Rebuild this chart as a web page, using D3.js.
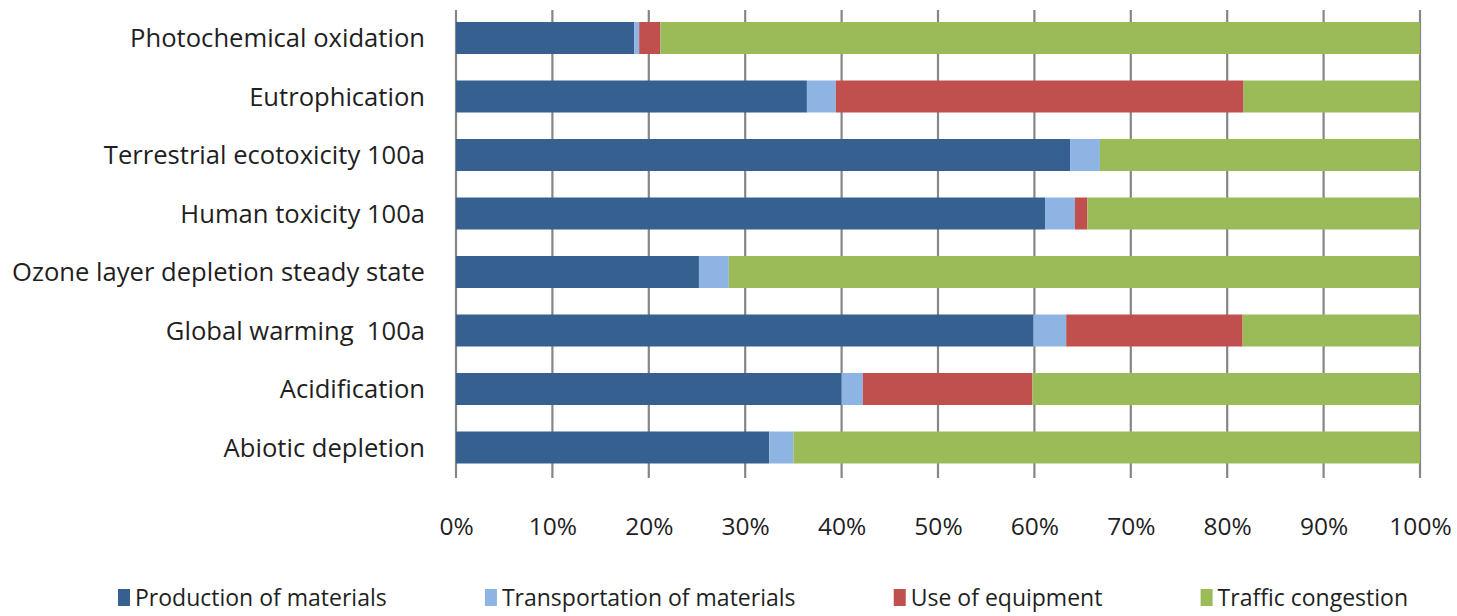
<!DOCTYPE html>
<html>
<head>
<meta charset="utf-8">
<script src="https://cdn.jsdelivr.net/npm/d3@7"></script>
<style>
  body { margin: 0; background: #fff; }
  svg text { fill: #1f1f1f; font-family: "Open Sans", sans-serif; }
</style>
</head>
<body>
<svg id="chart" width="1457" height="616"></svg>
<script>
'use strict';

// categories, top to bottom
var categories = [
  'Photochemical oxidation',
  'Eutrophication',
  'Terrestrial ecotoxicity 100a',
  'Human toxicity 100a',
  'Ozone layer depletion steady state',
  'Global warming  100a',
  'Acidification',
  'Abiotic depletion'
];

var seriesNames = ['Production of materials', 'Transportation of materials', 'Use of equipment', 'Traffic congestion'];
var seriesColors = ['#35608f', '#8db4e2', '#c0504d', '#9bbb59'];

// shares in %
var production     = [18.5, 36.4, 63.7, 61.1, 25.2, 59.9, 40.0, 32.5];
var transportation = [0.5,   3.0,  3.1,  3.1,  3.1,  3.4,  2.2,  2.5];
var equipment      = [2.2,  42.3,  0.0,  1.3,  0.0, 18.3, 17.6,  0.0];
var traffic        = [78.8, 18.3, 33.2, 34.5, 71.7, 18.4, 40.2, 65.0];

var ticks = [0, 10, 20, 30, 40, 50, 60, 70, 80, 90, 100];

var rows = categories.map(function(c, i) {
  return {
    cat: c,
    production: production[i],
    transportation: transportation[i],
    equipment: equipment[i],
    traffic: traffic[i]
  };
});
var keys = ['production', 'transportation', 'equipment', 'traffic'];
var stack = d3.stack().keys(keys)(rows);

var svg = d3.select('#chart');

var x = d3.scaleLinear().domain([0, 100]).range([456, 1420]);
var y = d3.scaleBand().domain(categories).range([8.75, 476.75])
  .paddingInner(0.453).paddingOuter(0.2265);

// gridlines
svg.append('g').selectAll('line').data(ticks).join('line')
  .attr('x1', function(d) { return x(d); })
  .attr('x2', function(d) { return x(d); })
  .attr('y1', 10).attr('y2', 478)
  .attr('stroke', '#868686').attr('stroke-width', 2.2);

// bars
svg.append('g').selectAll('g').data(stack).join('g')
  .attr('fill', function(d, i) { return seriesColors[i]; })
  .selectAll('rect').data(function(d) { return d; }).join('rect')
  .attr('x', function(d) { return x(d[0]); })
  .attr('width', function(d) { return Math.max(0, x(d[1]) - x(d[0])); })
  .attr('y', function(d) { return y(d.data.cat); })
  .attr('height', y.bandwidth());

// category labels
svg.append('g').selectAll('text').data(categories).join('text')
  .attr('x', 425)
  .attr('y', function(d) { return y(d) + y.bandwidth() / 2; })
  .attr('dy', '0.36em')
  .attr('text-anchor', 'end')
  .attr('font-size', 25.6)
  .style('white-space', 'pre')
  .text(function(d) { return d; });

// x tick labels
var xAxis = d3.axisBottom(x).tickValues(ticks)
  .tickFormat(function(d) { return d + '%'; })
  .tickSize(0).tickPadding(0);
var gx = svg.append('g').attr('transform', 'translate(0,518)').call(xAxis);
gx.select('.domain').remove();
gx.selectAll('text').attr('font-size', 24.5).attr('font-family', null).attr('fill', '#1f1f1f');

// legend: entries spread between left and right edge with equal gaps
var lg = svg.append('g').selectAll('g').data(seriesNames).join('g');
lg.append('rect').attr('x', 0).attr('y', -9).attr('width', 12).attr('height', 17)
  .attr('fill', function(d, i) { return seriesColors[i]; });
lg.append('text').attr('x', 17).attr('dy', '0.36em')
  .attr('font-size', 23)
  .text(function(d) { return d; });

var widths = [];
lg.each(function() { widths.push(17 + this.querySelector('text').getComputedTextLength()); });
var left = 118, right = 1408;
var gap = (right - left - d3.sum(widths)) / (widths.length - 1);
var pos = left;
lg.attr('transform', function(d, i) {
  var t = 'translate(' + pos + ',598)';
  pos += widths[i] + gap;
  return t;
});
</script>
</body>
</html>
